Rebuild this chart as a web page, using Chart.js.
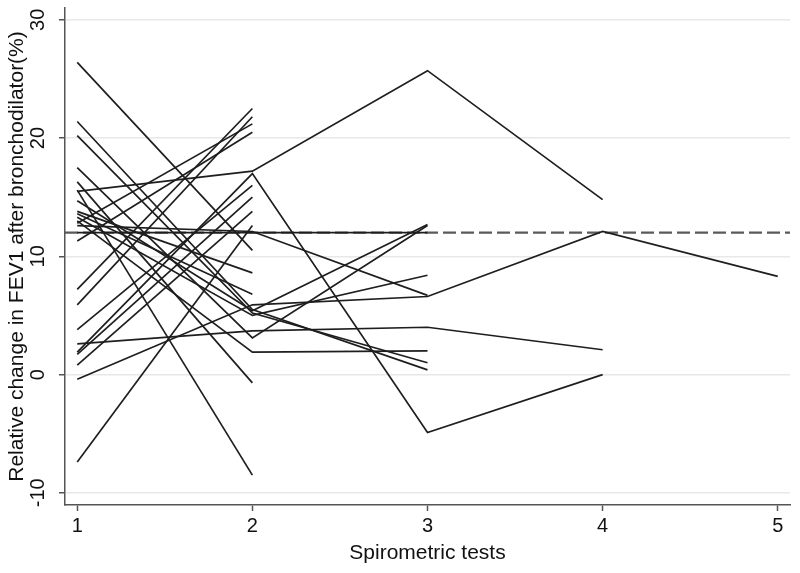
<!DOCTYPE html>
<html>
<head>
<meta charset="utf-8">
<script src="https://cdn.jsdelivr.net/npm/chart.js@4/dist/chart.umd.min.js"></script>
<style>
  html, body { margin: 0; padding: 0; background: #fff; }
  #wrap { width: 800px; height: 573px; }
</style>
</head>
<body>
<div id="wrap"><canvas id="fev1_chart"></canvas></div>
<script>
(function () {
    "use strict";

    // spirometric test number
    const visits = [1, 2, 3, 4, 5];
    const xTicks = [1, 2, 3, 4, 5];
    const yTicks = [-10, 0, 10, 20, 30];
    // reference threshold (%)
    const threshold = 12;

    // one row per subject, relative change in FEV1 (%) at each test
    const subjects = [
        [26.4, 10.5],
        [21.4, 5.5, 0.4],
        [20.2, 5.2, 1.0],
        [17.5, 3.1, 12.6],
        [16.3, -0.7],
        [15.6, -8.5],
        [15.5, 17.2, 25.7, 14.8],
        [14.7, 5.4, 12.7],
        [13.8, 8.6],
        [13.6, 6.8],
        [13.3, 5.0, 8.4],
        [13.0, 1.9, 2.0],
        [12.8, 21.2],
        [12.6, 12.1, 6.7],
        [12.0, 12.0, 12.0],
        [11.3, 20.5],
        [7.2, 22.5],
        [5.9, 21.8],
        [3.8, 16.0],
        [2.6, 3.7, 4.0, 2.1],
        [1.9, 17.0, -4.9, 0.0],
        [1.7, 15.0],
        [0.8, 13.8],
        [-0.4, 5.9, 6.6, 12.1, 8.3],
        [-7.4, 12.6]
    ];

    const xMin = 0.93, xMax = 5.07;
    const yMin = -11.03, yMax = 31.0;
    const font = "'Liberation Sans', Arial, Helvetica, sans-serif";

    const datasets = subjects.map(function (row) {
        return {
            data: row.map(function (v, i) { return { x: visits[i], y: v }; }),
            borderColor: '#1e1e1e',
            borderWidth: 1.7,
            pointRadius: 0,
            fill: false
        };
    });

    datasets.push({
        data: [{ x: xMin, y: threshold }, { x: xMax, y: threshold }],
        borderColor: '#5a5a5a',
        borderWidth: 2.2,
        borderDash: [13, 5],
        pointRadius: 0,
        fill: false
    });

    // y tick labels are drawn rotated, like the original
    const yLabels = {
        id: 'yLabels',
        afterDraw: function (chart) {
            const c = chart.ctx;
            const sc = chart.scales.y;
            c.save();
            c.fillStyle = '#111';
            c.font = '20px ' + font;
            c.textAlign = 'center';
            c.textBaseline = 'middle';
            yTicks.forEach(function (v) {
                const py = sc.getPixelForValue(v);
                c.save();
                c.translate(38, py);
                c.rotate(-Math.PI / 2);
                c.fillText(String(v), 0, 0);
                c.restore();
            });
            c.restore();
        }
    };

    const ctx = document.getElementById("fev1_chart").getContext('2d');

    new Chart(ctx, {
        type: 'line',
        data: { datasets: datasets },
        plugins: [yLabels],
        options: {
            responsive: true,
            maintainAspectRatio: false,
            animation: false,
            layout: { padding: { top: 8, right: 10, left: 0, bottom: 0 } },
            plugins: {
                legend: { display: false },
                tooltip: { enabled: false }
            },
            scales: {
                x: {
                    type: 'linear',
                    min: xMin,
                    max: xMax,
                    afterBuildTicks: function (s) { s.ticks = xTicks.map(function (v) { return { value: v }; }); },
                    grid: { drawOnChartArea: false, drawTicks: true, tickLength: 6, tickColor: '#555', tickWidth: 1.5 },
                    border: { display: true, color: '#555', width: 1.5 },
                    ticks: { color: '#111', font: { family: font, size: 20 }, padding: 3, maxRotation: 0 },
                    title: {
                        display: true,
                        text: 'Spirometric tests',
                        color: '#111',
                        font: { family: font, size: 21 },
                        padding: { top: 0, bottom: 6.8 }
                    }
                },
                y: {
                    type: 'linear',
                    min: yMin,
                    max: yMax,
                    afterBuildTicks: function (s) { s.ticks = yTicks.map(function (v) { return { value: v }; }); },
                    grid: { color: '#e8e8e8', lineWidth: 1.5, drawTicks: true, tickLength: 6, tickColor: '#555', tickWidth: 1.5 },
                    border: { display: true, color: '#555', width: 1.5 },
                    ticks: { display: false },
                    title: {
                        display: true,
                        text: 'Relative change in FEV1 after bronchodilator(%)',
                        color: '#111',
                        font: { family: font, size: 21 },
                        padding: { top: 4.4, bottom: 29.4 }
                    }
                }
            }
        }
    });
})();
</script>
</body>
</html>
